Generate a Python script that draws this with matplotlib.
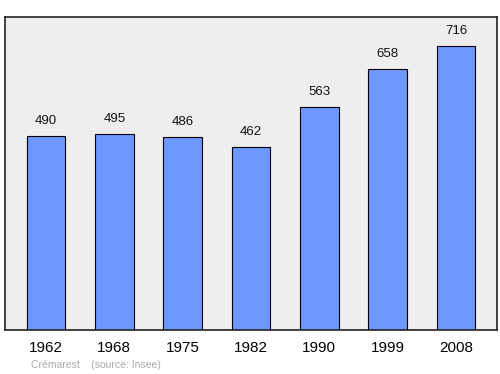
import matplotlib.pyplot as plt

plt.rcParams['font.family'] = ['Liberation Sans', 'DejaVu Sans']

years = ['1962', '1968', '1975', '1982', '1990', '1999', '2008']
population = [490, 495, 486, 462, 563, 658, 716]

fig = plt.figure(figsize=(5, 3.74), dpi=100)
ax = fig.add_axes([0.01, 1 - 330 / 374, 0.984, 313 / 374])
ax.set_facecolor('#eeeeee')

x = range(len(years))
ax.bar(x, population, width=0.57, color='#6f98ff', edgecolor='black', linewidth=0.8)

# value labels above bars
for i, v in enumerate(population):
    ax.text(i, v + 22, str(v), ha='center', va='bottom', fontsize=9.5, color='#111111')

ax.set_xlim(-0.6, 6.6)
ax.set_ylim(0, 789)
ax.set_xticks(list(x))
ax.set_xticklabels(years, fontsize=11)
ax.tick_params(axis='x', length=0, pad=8)
ax.set_yticks([])
for s in ax.spines.values():
    s.set_color('#222222')
    s.set_linewidth(1.2)

fig.text(31 / 500, 1 - 365 / 374, 'Crémarest    (source: Insee)', fontsize=7.5,
         color='#aaaaaa', va='center')

fig.savefig('out.png', dpi=100)
